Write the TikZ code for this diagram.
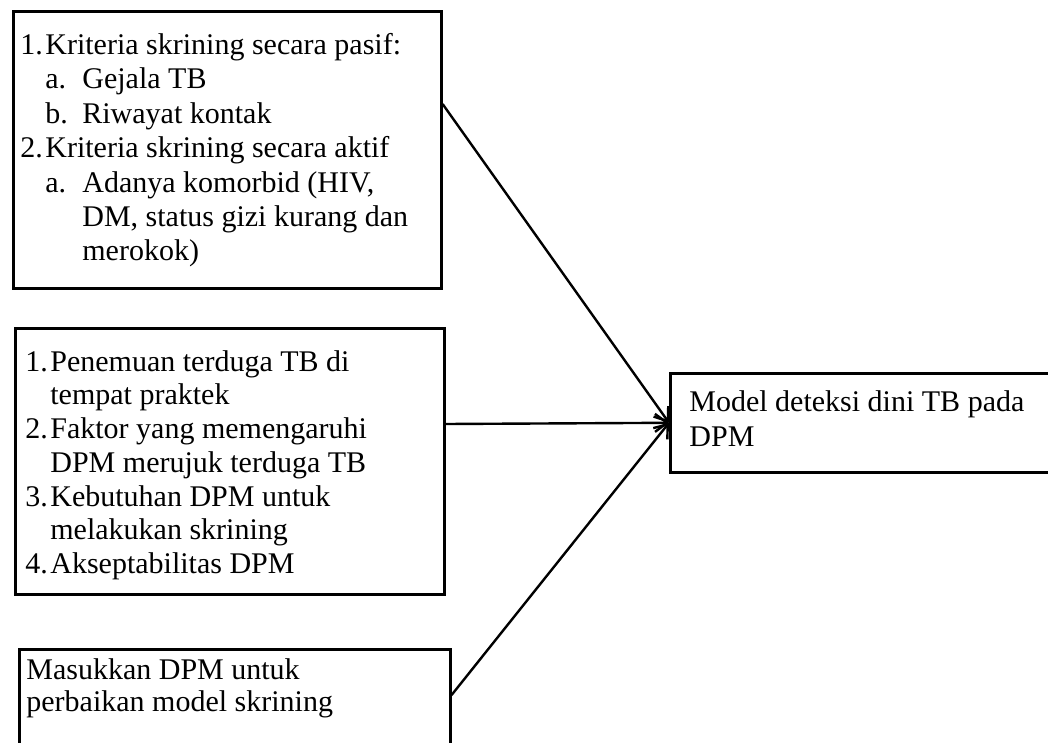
\documentclass[tikz,border=0pt]{standalone}
\usepackage{fontspec}
\setmainfont{Liberation Serif}
\usetikzlibrary{positioning,arrows.meta}

\tikzset{
  kotak/.style={draw=black, line width=1.3pt, anchor=north west, inner sep=0pt},
  isi/.style={inner sep=0pt, align=left, anchor=north west},
  panah/.style={line width=1.2pt, -{Straight Barb[length=6pt,width=9pt,line width=1.2pt]}},
}
\newcommand{\nomor}[1]{\makebox[12.5pt][l]{#1}}
\newcommand{\subnomor}[1]{\hspace*{12.5pt}\makebox[18.5pt][l]{#1}}
\newcommand{\lanjut}{\hspace*{31pt}}

\begin{document}
\begin{tikzpicture}[x=0.5pt,y=-0.5pt]
\useasboundingbox (0,0) rectangle (1048,743);
\fill[white] (0,0) rectangle (1048,743);
% kotak kiri
\node[kotak, minimum width=214pt, minimum height=138.5pt] (k1) at (12,10) {};
\node[kotak, minimum width=214.5pt, minimum height=133pt] (k2) at (14,327) {};
\node[kotak, minimum width=215.5pt, minimum height=60pt] (k3) at (18,648) {};
% kotak kanan
\node[kotak, minimum width=210pt, minimum height=49.5pt] (model) at (669,372) {};
% isi kotak
\node[isi, font=\fontsize{15}{17.2}\selectfont, below right=11.5pt and 4pt of k1.north west] (t1) {%
\nomor{1.}Kriteria skrining secara pasif:\\
\subnomor{a.}Gejala TB\\
\subnomor{b.}Riwayat kontak\\
\nomor{2.}Kriteria skrining secara aktif\\
\subnomor{a.}Adanya komorbid (HIV,\\
\lanjut DM, status gizi kurang dan\\
\lanjut merokok)};
\node[isi, font=\fontsize{15}{16.85}\selectfont, below right=11.5pt and 5.5pt of k2.north west] (t2) {%
\nomor{1.}Penemuan terduga TB di\\
\nomor{}tempat praktek\\
\nomor{2.}Faktor yang memengaruhi\\
\nomor{}DPM merujuk terduga TB\\
\nomor{3.}Kebutuhan DPM untuk\\
\nomor{}melakukan skrining\\
\nomor{4.}Akseptabilitas DPM};
\node[isi, font=\fontsize{15}{16}\selectfont, below right=5pt and 4pt of k3.north west] (t3) {%
Masukkan DPM untuk\\
perbaikan model skrining};
\node[isi, font=\fontsize{15}{17.5}\selectfont, below right=9pt and 10pt of model.north west] (t4) {%
Model deteksi dini TB pada\\
DPM};
% panah
\coordinate (p1) at ([yshift=-47pt]k1.north east);
\coordinate (p2) at ([yshift=-48.5pt]k2.north east);
\coordinate (p3) at ([yshift=-23.5pt]k3.north east);
\draw[panah] (p1) -- (model.west);
\draw[panah] (p2) -- (model.west);
\draw[panah] (p3) -- (model.west);
\end{tikzpicture}
\end{document}
